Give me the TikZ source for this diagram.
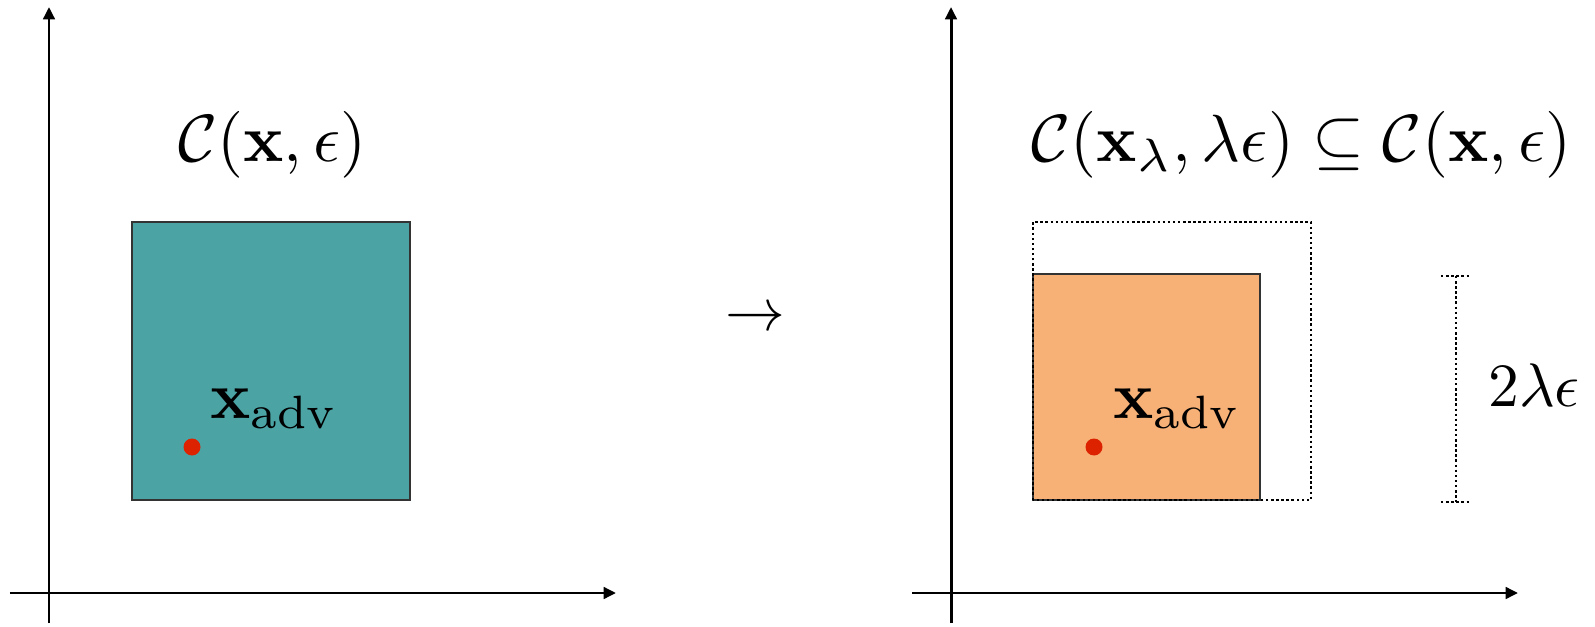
\documentclass[tikz,border=0pt]{standalone}
\usepackage{amsmath}
\usepackage{amssymb}
\usepackage{xcolor}
\usepackage{tikz}
\usetikzlibrary{arrows.meta}
\definecolor{tealbox}{RGB}{75,163,164}
\definecolor{orangebox}{RGB}{247,177,119}
\definecolor{advred}{RGB}{221,34,0}

\begin{document}
\begin{tikzpicture}[
  axis/.style={line width=1.7pt, -{Triangle[length=7pt,width=6.5pt]}},
  region/.style={draw=black!80, line width=0.6pt},
  bound/.style={line width=1.4pt, dash pattern=on 1.4pt off 1.5pt},
  bigmath/.style={scale=3.8, inner sep=0pt},
  advpt/.style={circle, fill=advred, inner sep=0pt, minimum size=0.34cm}]
  \useasboundingbox (0,0) rectangle (31.9,12.52);
  % left panel: the set C(x, eps)
  \coordinate (xl0) at (0.2,0.66);
  \coordinate (xl1) at (12.32,0.66);
  \coordinate (yl0) at (0.98,0.06);
  \coordinate (yl1) at (0.98,12.38);
  \draw[axis] (xl0) -- (xl1);
  \draw[axis] (yl0) -- (yl1);
  \draw[region, fill=tealbox] (2.64,2.52) rectangle (8.20,8.08);
  \node[advpt] (dotL) at (3.84,3.58) {};
  \node[bigmath, anchor=base west] (advL) at (4.18,4.16) {$\mathbf{x}_{\text{adv}}$};
  \node[bigmath] (titleL) at (5.45,9.62) {$\mathcal{C}(\mathbf{x},\epsilon)$};
  % map between the panels
  \node[scale=3.4] (maps) at (15.10,6.12) {$\to$};
  % right panel: the shrunk set
  \coordinate (xr0) at (18.24,0.66);
  \coordinate (xr1) at (30.36,0.66);
  \coordinate (yr0) at (19.02,0.06);
  \coordinate (yr1) at (19.02,12.38);
  \draw[axis] (xr0) -- (xr1);
  \draw[axis] (yr0) -- (yr1);
  \draw[region, fill=orangebox] (20.66,2.52) rectangle (25.20,7.04);
  \draw[bound] (20.66,2.52) rectangle (26.22,8.08);
  \node[advpt] (dotR) at (21.88,3.58) {};
  \node[bigmath, anchor=base west] (advR) at (22.24,4.16) {$\mathbf{x}_{\text{adv}}$};
  \node[bigmath] (titleR) at (26.03,9.62)
        {$\mathcal{C}(\mathbf{x}_\lambda,\lambda\epsilon)\subseteq\mathcal{C}(\mathbf{x},\epsilon)$};
  % side length of the shrunk box
  \coordinate (wt) at (29.12,7.0);
  \coordinate (wb) at (29.12,2.48);
  \draw[bound] ([xshift=-0.3cm]wt) -- ([xshift=0.3cm]wt);
  \draw[bound] ([xshift=-0.3cm]wb) -- ([xshift=0.3cm]wb);
  \draw[bound] (wt) -- (wb);
  \node[bigmath, scale=3.5/3.8, anchor=west] (width) at (29.74,4.81) {$2\lambda\epsilon$};
\end{tikzpicture}
\end{document}
